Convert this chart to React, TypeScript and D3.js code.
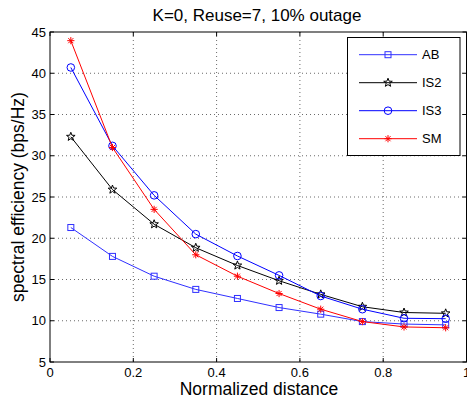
import React from "react";
import * as d3 from "d3";

const distances = [0.05, 0.15, 0.25, 0.35, 0.45, 0.55, 0.65, 0.75, 0.85, 0.95];
const abValues = [21.3, 17.8, 15.4, 13.8, 12.7, 11.6, 10.8, 9.9, 9.6, 9.5];
const is2Values = [32.3, 25.9, 21.7, 18.85, 16.7, 14.85, 13.2, 11.7, 11.0, 10.9];
const is3Values = [40.7, 31.2, 25.2, 20.5, 17.85, 15.5, 13.0, 11.4, 10.3, 10.25];
const smValues = [43.95, 31.0, 23.5, 18.0, 15.4, 13.3, 11.4, 9.9, 9.25, 9.15];
const seriesNames = ["AB", "IS2", "IS3", "SM"];
const xTicks = [0, 0.2, 0.4, 0.6, 0.8, 1];
const yTicks = [5, 10, 15, 20, 25, 30, 35, 40, 45];

const W = 467, H = 404;
const L = 50, R = 466.5, T = 32, B = 362;
const FONT = "'Liberation Sans', Arial, Helvetica, sans-serif";

type Marker = "square" | "star" | "circle" | "asterisk";

function MarkerShape({ type, x, y, color }: { type: Marker; x: number; y: number; color: string }) {
  if (type === "square") {
    return <rect x={x - 3} y={y - 3} width={6} height={6} fill="none" stroke={color} strokeWidth={1} />;
  }
  if (type === "circle") {
    return <circle cx={x} cy={y} r={3.8} fill="none" stroke={color} strokeWidth={1} />;
  }
  if (type === "star") {
    const pts: string[] = [];
    const ro = 4.5, ri = 1.9;
    for (let i = 0; i < 10; i++) {
      const a = -Math.PI / 2 + (i * Math.PI) / 5;
      const r = i % 2 === 0 ? ro : ri;
      pts.push(`${x + r * Math.cos(a)},${y + r * Math.sin(a)}`);
    }
    return <polygon points={pts.join(" ")} fill="none" stroke={color} strokeWidth={1} />;
  }
  const s = 3.6;
  const d = s * 0.707;
  return (
    <g stroke={color} strokeWidth={1}>
      <line x1={x - s} y1={y} x2={x + s} y2={y} />
      <line x1={x} y1={y - s} x2={x} y2={y + s} />
      <line x1={x - d} y1={y - d} x2={x + d} y2={y + d} />
      <line x1={x - d} y1={y + d} x2={x + d} y2={y - d} />
    </g>
  );
}

export default function App() {
  const x = d3.scaleLinear().domain([0, 1]).range([L, R]);
  const y = d3.scaleLinear().domain([5, 45]).range([B, T]);
  const series: { name: string; values: number[]; color: string; marker: Marker }[] = [
    { name: seriesNames[0], values: abValues, color: "#3030ff", marker: "square" },
    { name: seriesNames[1], values: is2Values, color: "#000000", marker: "star" },
    { name: seriesNames[2], values: is3Values, color: "#0000ff", marker: "circle" },
    { name: seriesNames[3], values: smValues, color: "#ff0000", marker: "asterisk" },
  ];
  const line = d3
    .line<number>()
    .x((_, i) => x(distances[i]))
    .y((v) => y(v));

  const legX0 = 347.5, legY0 = 37.5, legW = 112.5, legH = 118;
  const legRowY = (i: number) => 54.7 + i * 28;

  return (
    <svg width={W} height={H} style={{ position: "absolute", left: 0, top: 0, background: "#fff" }} fontFamily={FONT}>
      <rect x={0} y={0} width={W} height={H} fill="#fff" />
      {/* grid */}
      <g stroke="#444" strokeWidth={0.8} strokeDasharray="1,3">
        {xTicks.slice(1, -1).map((t) => (
          <line key={"gx" + t} x1={x(t)} x2={x(t)} y1={T} y2={B} />
        ))}
        {yTicks.slice(1, -1).map((t) => (
          <line key={"gy" + t} x1={L} x2={R} y1={y(t)} y2={y(t)} />
        ))}
      </g>
      {/* ticks */}
      <g stroke="#000" strokeWidth={1}>
        {xTicks.map((t) => (
          <g key={"tx" + t}>
            <line x1={x(t)} x2={x(t)} y1={B} y2={B - 4} />
            <line x1={x(t)} x2={x(t)} y1={T} y2={T + 4} />
          </g>
        ))}
        {yTicks.map((t) => (
          <g key={"ty" + t}>
            <line x1={L} x2={L + 4} y1={y(t)} y2={y(t)} />
            <line x1={R} x2={R - 4} y1={y(t)} y2={y(t)} />
          </g>
        ))}
      </g>
      <rect x={L} y={T} width={R - L} height={B - T} fill="none" stroke="#000" strokeWidth={1} />
      {/* tick labels */}
      <g fontSize={13} fill="#000">
        {xTicks.map((t) => (
          <text key={"lx" + t} x={x(t)} y={377} textAnchor="middle">
            {t === 0 || t === 1 ? String(t) : t.toFixed(1)}
          </text>
        ))}
        {yTicks.map((t) => (
          <text key={"ly" + t} x={46} y={y(t)} textAnchor="end" dominantBaseline="central">
            {t}
          </text>
        ))}
      </g>
      {/* series */}
      {series.map((s) => (
        <g key={s.name}>
          <path d={line(s.values) || ""} fill="none" stroke={s.color} strokeWidth={1} />
          {s.values.map((v, i) => (
            <MarkerShape key={i} type={s.marker} x={x(distances[i])} y={y(v)} color={s.color} />
          ))}
        </g>
      ))}
      {/* legend */}
      <rect x={legX0} y={legY0} width={legW} height={legH} fill="#fff" stroke="#000" strokeWidth={1} />
      {series.map((s, i) => (
        <g key={"leg" + s.name}>
          <line x1={359} x2={417} y1={legRowY(i)} y2={legRowY(i)} stroke={s.color} strokeWidth={1} />
          <MarkerShape type={s.marker} x={388} y={legRowY(i)} color={s.color} />
          <text x={422} y={legRowY(i)} fontSize={13} dominantBaseline="central">
            {s.name}
          </text>
        </g>
      ))}
      {/* titles */}
      <text x={257} y={20.5} fontSize={17} textAnchor="middle">
        K=0, Reuse=7, 10% outage
      </text>
      <text x={259} y={395} fontSize={17.5} textAnchor="middle">
        Normalized distance
      </text>
      <text
        transform={`translate(24,197) rotate(-90)`}
        fontSize={17.5}
        textAnchor="middle"
      >
        spectral efficiency (bps/Hz)
      </text>
    </svg>
  );
}
